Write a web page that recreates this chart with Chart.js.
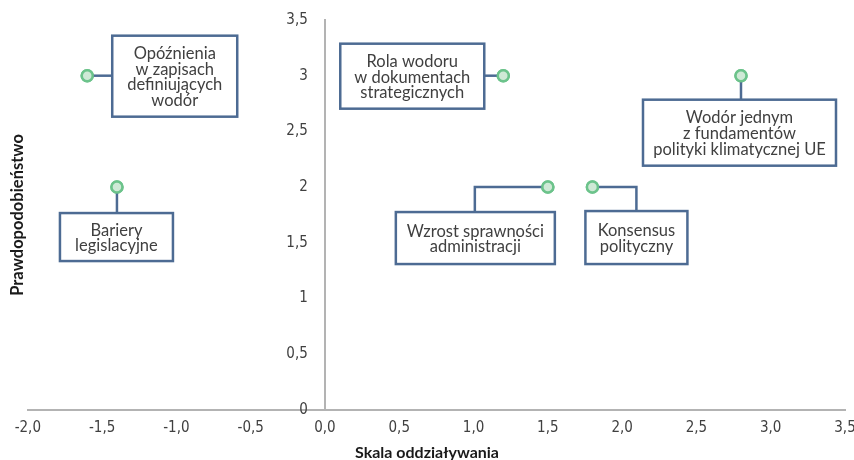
<!DOCTYPE html>
<html>
<head>
<meta charset="utf-8">
<script src="https://cdn.jsdelivr.net/npm/chart.js@4"></script>
<style>
  html, body { margin: 0; padding: 0; background: #fff; }
  #wrap { width: 854px; height: 460px; }
</style>
</head>
<body>
<div id="wrap"><canvas id="riskChart"></canvas></div>
<script>
// dane
var factors = [
    ['Opóźnienia', 'w zapisach', 'definiujących', 'wodór'],
    ['Bariery', 'legislacyjne'],
    ['Rola wodoru', 'w dokumentach', 'strategicznych'],
    ['Wodór jednym', 'z fundamentów', 'polityki klimatycznej UE'],
    ['Wzrost sprawności', 'administracji'],
    ['Konsensus', 'polityczny']
];
var impact = [-1.6, -1.4, 1.2, 2.8, 1.5, 1.8];
var probability = [3, 2, 3, 3, 2, 2];

// położenie ramek względem punktu (px): lewo, góra, szerokość, wysokość, typ łącznika
var boxes = [
    { dx: 25, dy: -40, w: 125, h: 81, link: 'h' },
    { dx: -57, dy: 26, w: 113, h: 48, link: 'v' },
    { dx: -163, dy: -32, w: 144, h: 65, link: 'h' },
    { dx: -98, dy: 24, w: 193, h: 66, link: 'v' },
    { dx: -152, dy: 25, w: 159, h: 52, link: 'e', ex: -73 },
    { dx: -7, dy: 24, w: 102, h: 53, link: 'e', ex: 44 }
];

var boxColor = '#4d6b93';
var textColor = '#404040';
var axisColor = '#b3b3b3';

var points = impact.map(function(x, i) { return { x: x, y: probability[i] }; });

function decimal(v, fixed) {
    var s = fixed ? v.toFixed(1) : String(v);
    return s.replace('.', ',');
}

var calloutPlugin = {
    id: 'callouts',
    afterDatasetsDraw: function(chart) {
        var ctx = chart.ctx;
        var meta = chart.getDatasetMeta(0);
        ctx.save();
        meta.data.forEach(function(el, i) {
            var b = boxes[i];
            var px = el.x, py = el.y;
            var left = px + b.dx, top = py + b.dy;
            ctx.strokeStyle = boxColor;
            ctx.lineWidth = 2.5;
            ctx.beginPath();
            ctx.moveTo(px, py);
            if (b.link === 'h') {
                ctx.lineTo(b.dx > 0 ? left : left + b.w, py);
            } else if (b.link === 'v') {
                ctx.lineTo(px, top);
            } else {
                ctx.lineTo(px + b.ex, py);
                ctx.lineTo(px + b.ex, top);
            }
            ctx.stroke();

            ctx.fillStyle = '#ffffff';
            ctx.fillRect(left, top, b.w, b.h);
            ctx.strokeRect(left, top, b.w, b.h);

            var lines = factors[i];
            var lh = 15.6;
            var cy = top + b.h / 2 - (lines.length - 1) * lh / 2;
            ctx.fillStyle = textColor;
            ctx.font = '16.5px Lato, sans-serif';
            ctx.textAlign = 'center';
            ctx.textBaseline = 'middle';
            lines.forEach(function(t, k) {
                ctx.fillText(t, left + b.w / 2, cy + k * lh + 1);
            });
        });
        ctx.restore();
        // punkty na wierzchu
        meta.data.forEach(function(el) { el.draw(ctx); });
    }
};

var tickFont = { family: '"Liberation Sans Narrow", "DejaVu Sans Condensed", sans-serif', size: 15 };

new Chart(document.getElementById('riskChart'), {
    type: 'scatter',
    data: {
        datasets: [{
            label: 'Czynniki',
            data: points,
            pointRadius: 5.5,
            pointHoverRadius: 5.5,
            pointBackgroundColor: '#cfe9d6',
            pointBorderColor: '#6cc38b',
            pointBorderWidth: 2.5
        }]
    },
    options: {
        responsive: true,
        maintainAspectRatio: false,
        animation: false,
        layout: { padding: { top: 20, right: 0, left: 0, bottom: -2 } },
        plugins: {
            legend: { display: false },
            tooltip: { enabled: false },
            title: {
                display: true,
                position: 'bottom',
                text: 'Skala oddziaływania',
                color: '#1a1a1a',
                font: { family: 'Lato, sans-serif', size: 16, weight: 'bold' },
                padding: { top: 5, bottom: 0 }
            },
            subtitle: {
                display: true,
                position: 'left',
                fullSize: false,
                text: 'Prawdopodobieństwo',
                color: '#1a1a1a',
                font: { family: 'Lato, sans-serif', size: 16.5, weight: 'bold' },
                // dla tytułu z boku top = odstęp od lewej krawędzi
                padding: { top: 8, bottom: 0 }
            }
        },
        scales: {
            x: {
                type: 'linear',
                position: 'bottom',
                min: -2,
                max: 3.5,
                grid: { display: false, drawTicks: false },
                border: { color: axisColor, width: 2 },
                ticks: {
                    stepSize: 0.5,
                    color: textColor,
                    font: tickFont,
                    padding: 9,
                    callback: function(v) { return decimal(v, true); }
                },
                afterFit: function(scale) {
                    scale.height = 28;
                    scale.paddingLeft = 10;
                    scale.paddingRight = 9;
                }
            },
            y: {
                type: 'linear',
                position: { x: 0 },
                min: 0,
                max: 3.5,
                grid: { display: false, drawTicks: false },
                border: { color: axisColor, width: 2 },
                ticks: {
                    stepSize: 0.5,
                    color: textColor,
                    font: tickFont,
                    // etykiety odsunięte od osi
                    callback: function(v) { return decimal(v, false) + '    '; }
                }
            }
        }
    },
    plugins: [calloutPlugin]
});
</script>
</body>
</html>
